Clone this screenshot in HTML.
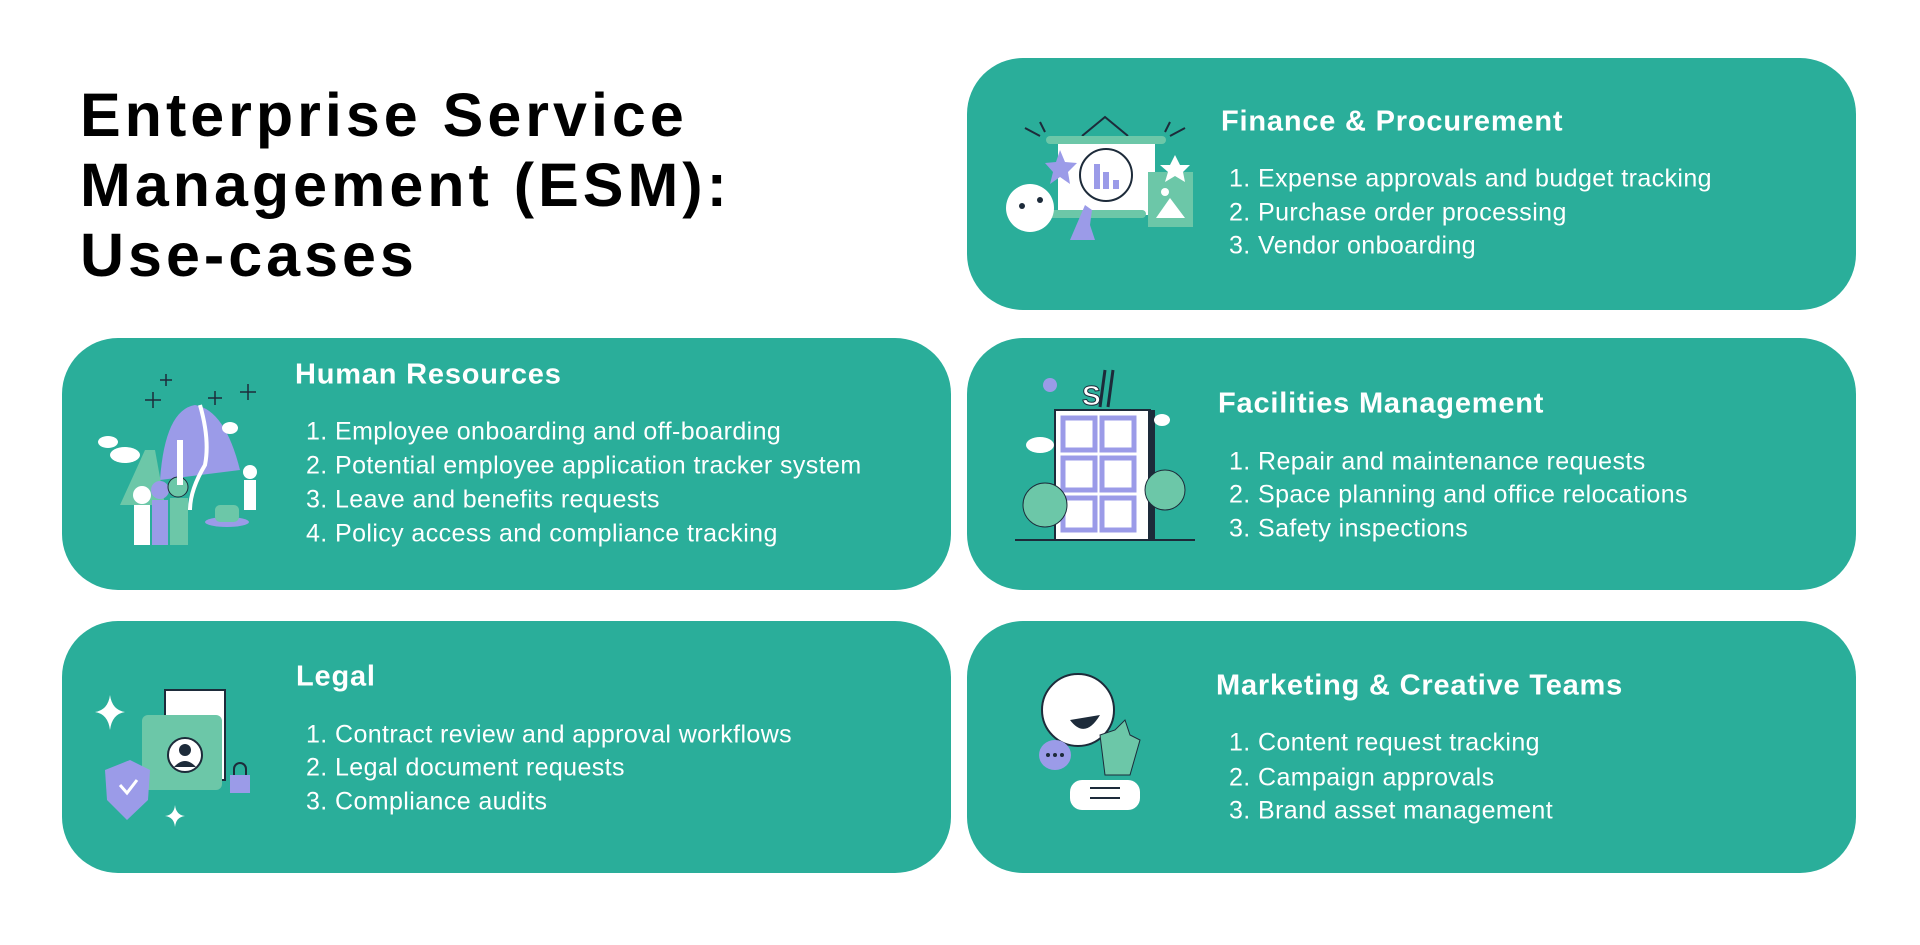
<!DOCTYPE html>
<html><head><meta charset="utf-8">
<style>
*{margin:0;padding:0;box-sizing:border-box}
body{width:1920px;height:945px;background:#fff;position:relative;overflow:hidden;font-family:"Liberation Sans",sans-serif}
.title{position:absolute;left:80px;top:80px;font-size:61px;font-weight:bold;line-height:70px;color:#000;letter-spacing:4px}
.card{position:absolute;width:889px;height:252px;background:#2aae9a;border-radius:56px}
.h{position:absolute;color:#fff;font-size:29px;font-weight:bold;white-space:nowrap;transform:translateY(-50%);letter-spacing:0.8px}
.i{position:absolute;color:#fff;font-size:25px;white-space:nowrap;transform:translateY(-50%);letter-spacing:0.4px}
svg{position:absolute}
</style></head><body>
<div class="title">Enterprise Service<br>Management (ESM):<br>Use-cases</div>

<div class="card" style="left:967px;top:58px"></div>
<div class="card" style="left:62px;top:338px"></div>
<div class="card" style="left:967px;top:338px"></div>
<div class="card" style="left:62px;top:621px"></div>
<div class="card" style="left:967px;top:621px"></div>

<!-- Finance -->
<svg style="left:1000px;top:100px" width="200" height="160" viewBox="0 0 200 160">
<g stroke="#1d2b3a" stroke-width="2" fill="none"><path d="M82 36 L105 17 L128 36"/><path d="M25 28l15 8M40 22l5 10M170 22l-5 10M185 28l-15 8"/></g>
<rect x="58" y="40" width="97" height="75" fill="#fff"/>
<rect x="46" y="36" width="120" height="8" rx="4" fill="#6cc7a8"/>
<rect x="46" y="110" width="100" height="8" rx="4" fill="#6cc7a8"/>
<circle cx="106" cy="75" r="26" fill="none" stroke="#1d2b3a" stroke-width="2"/>
<rect x="94" y="64" width="6" height="25" fill="#9b9be8"/><rect x="103" y="72" width="6" height="17" fill="#9b9be8"/><rect x="113" y="80" width="6" height="9" fill="#9b9be8"/>
<polygon points="60,50 65,62 77,63 68,72 70,84 60,77 50,84 53,72 45,63 56,62" fill="#9b9be8"/>
<circle cx="30" cy="108" r="24" fill="#fff"/><circle cx="22" cy="106" r="3" fill="#1d2b3a"/><circle cx="40" cy="100" r="3" fill="#1d2b3a"/>
<path d="M70 140 L85 105 L92 110 L90 125 L95 140 Z" fill="#9b9be8"/>
<rect x="148" y="72" width="45" height="55" fill="#6cc7a8"/><polygon points="156,118 170,98 185,118" fill="#fff"/><circle cx="165" cy="92" r="4" fill="#fff"/>
<polygon points="175,55 180,65 190,65 183,72 185,82 175,76 165,82 168,72 160,65 170,65" fill="#fff"/>
</svg>
<div class="h" style="left:1221px;top:122px">Finance &amp; Procurement</div>
<div class="i" style="left:1229px;top:179px">1. Expense approvals and budget tracking</div>
<div class="i" style="left:1229px;top:213px">2. Purchase order processing</div>
<div class="i" style="left:1229px;top:246px">3. Vendor onboarding</div>

<!-- HR -->
<svg style="left:90px;top:360px" width="200" height="200" viewBox="0 0 200 200">
<path d="M70 120 Q75 50 105 45 Q135 50 150 110 Z" fill="#9b9be8"/>
<path d="M110 45 Q120 80 115 105 Q100 130 100 150" stroke="#fff" stroke-width="4" fill="none"/>
<path d="M30 145 L55 90 L65 90 L75 145 Z" fill="#6cc7a8"/>
<ellipse cx="35" cy="95" rx="15" ry="8" fill="#fff"/><ellipse cx="18" cy="82" rx="10" ry="6" fill="#fff"/><ellipse cx="140" cy="68" rx="8" ry="6" fill="#fff"/>
<circle cx="52" cy="135" r="9" fill="#fff"/><rect x="44" y="145" width="16" height="40" fill="#fff"/>
<circle cx="70" cy="130" r="9" fill="#9b9be8"/><rect x="62" y="140" width="16" height="45" fill="#9b9be8"/>
<circle cx="88" cy="127" r="10" fill="#6cc7a8" stroke="#1d2b3a"/><rect x="80" y="138" width="18" height="47" fill="#6cc7a8"/>
<rect x="87" y="80" width="6" height="45" fill="#fff"/>
<circle cx="160" cy="112" r="7" fill="#fff"/><rect x="154" y="120" width="12" height="30" fill="#fff"/>
<ellipse cx="137" cy="162" rx="22" ry="5" fill="#9b9be8"/><rect x="125" y="145" width="24" height="17" rx="5" fill="#6cc7a8"/>
<g stroke="#1d2b3a" stroke-width="1.5"><path d="M55 40h16M63 32v16M70 20h12M76 14v12M118 38h14M125 31v14M150 32h16M158 24v16"/></g>
</svg>
<div class="h" style="left:295px;top:375px">Human Resources</div>
<div class="i" style="left:306px;top:432px">1. Employee onboarding and off-boarding</div>
<div class="i" style="left:306px;top:466px">2. Potential employee application tracker system</div>
<div class="i" style="left:306px;top:500px">3. Leave and benefits requests</div>
<div class="i" style="left:306px;top:534px">4. Policy access and compliance tracking</div>

<!-- Facilities -->
<svg style="left:1010px;top:365px" width="190" height="180" viewBox="0 0 190 180">
<rect x="45" y="45" width="95" height="130" fill="#fff" stroke="#1d2b3a" stroke-width="2"/>
<rect x="138" y="45" width="7" height="130" fill="#1d2b3a"/>
<g fill="none" stroke="#9b9be8" stroke-width="5">
<rect x="53" y="53" width="32" height="32"/><rect x="92" y="53" width="32" height="32"/>
<rect x="53" y="93" width="32" height="32"/><rect x="92" y="93" width="32" height="32"/>
<rect x="53" y="133" width="32" height="32"/><rect x="92" y="133" width="32" height="32"/></g>
<circle cx="35" cy="140" r="22" fill="#6cc7a8" stroke="#1d2b3a" stroke-width="1"/>
<circle cx="155" cy="125" r="20" fill="#6cc7a8" stroke="#1d2b3a" stroke-width="1"/>
<line x1="5" y1="175" x2="185" y2="175" stroke="#1d2b3a" stroke-width="2"/>
<text x="72" y="40" font-family="Liberation Sans" font-weight="bold" font-size="28" fill="#fff" stroke="#1d2b3a" stroke-width="1">S</text>
<path d="M95 5 L90 42M103 5 L98 42" stroke="#1d2b3a" stroke-width="3"/>
<ellipse cx="30" cy="80" rx="14" ry="8" fill="#fff"/><ellipse cx="152" cy="55" rx="8" ry="6" fill="#fff"/>
<circle cx="40" cy="20" r="7" fill="#9b9be8"/>
</svg>
<div class="h" style="left:1218px;top:404px">Facilities Management</div>
<div class="i" style="left:1229px;top:462px">1. Repair and maintenance requests</div>
<div class="i" style="left:1229px;top:495px">2. Space planning and office relocations</div>
<div class="i" style="left:1229px;top:529px">3. Safety inspections</div>

<!-- Legal -->
<svg style="left:90px;top:675px" width="190" height="160" viewBox="0 0 190 160">
<rect x="75" y="15" width="60" height="90" fill="#fff" stroke="#1d2b3a" stroke-width="2"/>
<rect x="52" y="40" width="80" height="75" rx="6" fill="#6cc7a8"/>
<circle cx="95" cy="80" r="17" fill="#fff" stroke="#1d2b3a" stroke-width="2"/><circle cx="95" cy="75" r="6" fill="#1d2b3a"/><path d="M84 92 Q95 80 106 92" fill="#1d2b3a"/>
<path d="M15 95 L40 85 L60 95 L58 125 L37 145 L17 125 Z" fill="#9b9be8"/><path d="M30 110 L37 118 L47 105" stroke="#fff" stroke-width="3" fill="none"/>
<rect x="140" y="100" width="20" height="18" fill="#9b9be8"/><path d="M144 100 v-6 a6 6 0 0 1 12 0 v6" stroke="#1d2b3a" fill="none" stroke-width="2"/>
<path d="M20 20 Q22 35 35 37 Q22 39 20 55 Q18 39 5 37 Q18 35 20 20Z" fill="#fff"/>
<path d="M85 130 Q86 140 95 141 Q86 142 85 152 Q84 142 75 141 Q84 140 85 130Z" fill="#fff"/>
</svg>
<div class="h" style="left:296px;top:677px">Legal</div>
<div class="i" style="left:306px;top:735px">1. Contract review and approval workflows</div>
<div class="i" style="left:306px;top:768px">2. Legal document requests</div>
<div class="i" style="left:306px;top:802px">3. Compliance audits</div>

<!-- Marketing -->
<svg style="left:1030px;top:670px" width="160" height="155" viewBox="0 0 160 155">
<circle cx="48" cy="40" r="36" fill="#fff" stroke="#1d2b3a" stroke-width="2"/>
<path d="M40 50 Q55 70 70 45 Z" fill="#1d2b3a"/>
<ellipse cx="25" cy="85" rx="16" ry="15" fill="#9b9be8"/><circle cx="18" cy="85" r="2" fill="#1d2b3a"/><circle cx="25" cy="85" r="2" fill="#1d2b3a"/><circle cx="32" cy="85" r="2" fill="#1d2b3a"/>
<path d="M75 105 L70 65 L85 60 L95 50 L100 65 L110 70 L100 105Z" fill="#6cc7a8" stroke="#1d2b3a" stroke-width="1"/>
<rect x="40" y="110" width="70" height="30" rx="12" fill="#fff"/>
<path d="M60 118h30M60 128h30" stroke="#1d2b3a" stroke-width="2"/>
</svg>
<div class="h" style="left:1216px;top:686px">Marketing &amp; Creative Teams</div>
<div class="i" style="left:1229px;top:743px">1. Content request tracking</div>
<div class="i" style="left:1229px;top:778px">2. Campaign approvals</div>
<div class="i" style="left:1229px;top:811px">3. Brand asset management</div>
</body></html>
